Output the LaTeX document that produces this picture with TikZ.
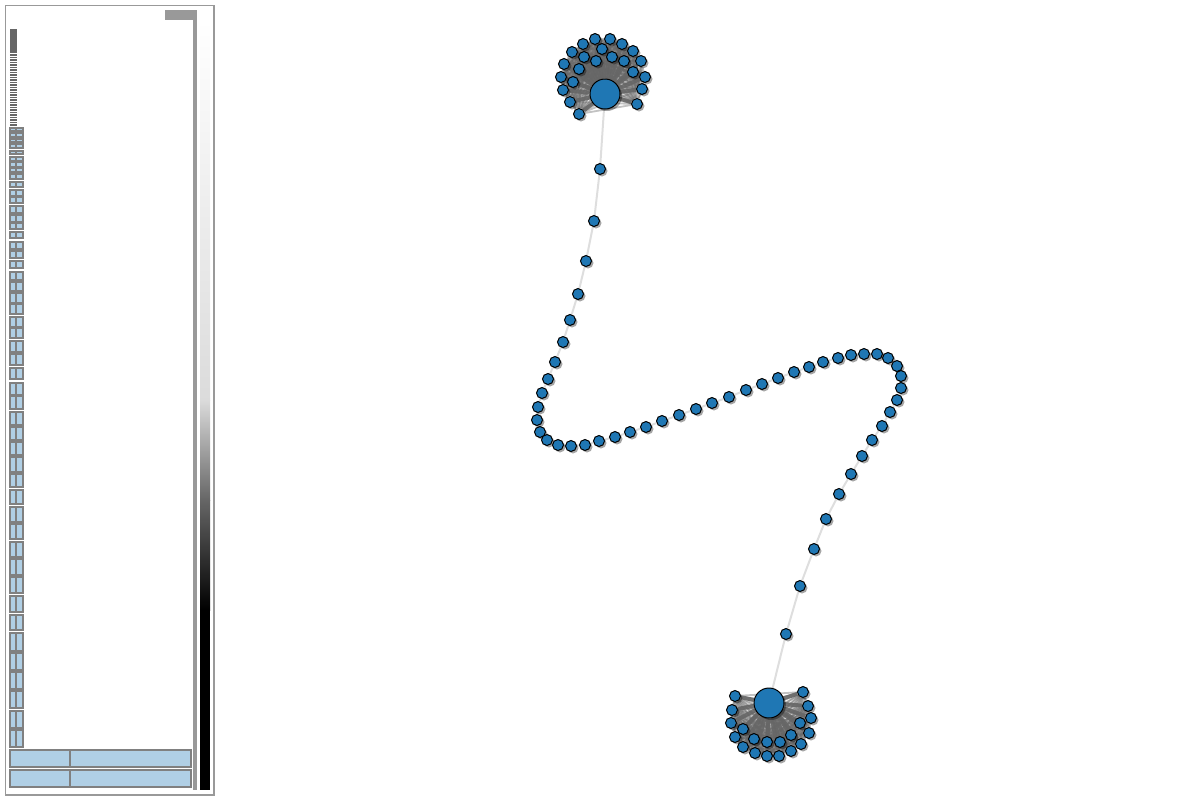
\documentclass[tikz,border=0pt]{standalone}
\usetikzlibrary{shadows}
\definecolor{nodeblue}{HTML}{1F77B4}
\definecolor{boxblue}{HTML}{B0CFE5}
\definecolor{boxgrey}{HTML}{808080}
\definecolor{panelgrey}{HTML}{999999}
\pgfdeclarelayer{bg}
\pgfsetlayers{bg,main}
\tikzset{
  gnode/.style={circle, fill=nodeblue, draw=black, line width=0.5pt, inner sep=0pt, minimum size=5.5pt,
    drop shadow={shadow xshift=1pt, shadow yshift=-1pt, fill=black, opacity=0.35}},
  hubnode/.style={gnode, minimum size=15pt},
  chainedge/.style={draw=black!13, line width=1pt},
  hubedge/.style={draw=black!60, line width=2pt, opacity=0.9},
  pairedge/.style={draw=black!60, line width=0.9pt, opacity=0.4},
  colbox/.style={fill=boxblue, draw=boxgrey, line width=0.7pt},
}
\begin{document}
\begin{tikzpicture}[x=0.5pt,y=-0.5pt]
\useasboundingbox (0,0) rectangle (1200,800);
% ---------- left panel ----------
\draw[panelgrey, line width=0.6pt] (5.5,5.5) rectangle (214,795);
\fill[panelgrey] (165,10) rectangle (197,20);
\fill[panelgrey] (193,20) rectangle (197,790);
\shade[top color=white, bottom color=black!14] (200,20) rectangle (210,400);
\shade[top color=black!14, bottom color=black!60] (200,400) rectangle (210,500);
\shade[top color=black!60, bottom color=black] (200,500) rectangle (210,610);
\fill[black] (200,610) rectangle (210,790);
% dark top part of column
\fill[black!60] (10,29) rectangle (17,53);
\foreach \yy in {54,56.5,...,126}{
  \fill[black!60] (10,\yy) rectangle (17,\yy+1.6);
}
\foreach \a/\b in {128/131,133/137,139/142,144/148,151/154,157/161,162/167,168/172,174/179,182/187,
  190/196,197/203,206/213,215/222,223/229,232/238,242/249,251/258,261/268,272/280,282/291,293/303,
  304/314,317/327,328/338,341/352,354/365,368/379,383/395,396/409,412/425,427/440,442/455,457/472,
  474/487,490/504,507/522,524/539,542/557,559/575,577/593,596/612,615/630,633/651,653/670,672/689,
  691/708,711/728,730/747}{
  \draw[colbox] (10,\a) rectangle (23,\b);
  \draw[boxgrey, line width=0.7pt] (16,\a) -- (16,\b);
}
\draw[colbox] (10,750) rectangle (191,767);
\draw[boxgrey, line width=0.7pt] (70,750) -- (70,767);
\draw[colbox] (10,770) rectangle (191,787);
\draw[boxgrey, line width=0.7pt] (70,770) -- (70,787);
% ---------- graph nodes ----------
\node[hubnode] (ht) at (605,94) {};
\node[hubnode] (hb) at (769,703) {};
\foreach \x/\y [count=\n] in {595/39,610/39,583/44,622/44,572/52,633/51,564/64,641/61,561/77,645/77,
  563/90,642/89,570/102,637/104,579/114,602/49,584/57,596/61,612/57,624/61,579/69,633/72,573/82}{
  \node[gnode] (t\n) at (\x,\y) {};
}
\foreach \x/\y [count=\n] in {735/696,803/692,732/710,808/706,731/723,811/718,743/729,800/723,735/737,
  809/733,754/739,767/742,780/742,791/735,743/747,801/744,755/753,767/756,779/756,791/751}{
  \node[gnode] (b\n) at (\x,\y) {};
}
\foreach \x/\y [count=\n] in {600/169,594/221,586/261,578/294,570/320,563/342,555/362,548/379,542/393,
  538/407,537/420,540/432,547/440,558/445,571/446,585/445,599/441,615/437,630/432,646/427,662/421,
  679/415,696/409,712/403,729/397,746/390,762/384,778/378,794/372,809/367,823/362,838/358,851/355,
  864/354,877/354,888/358,897/366,901/376,901/388,897/400,890/412,882/426,872/440,862/456,851/474,
  839/494,826/519,814/549,800/586,786/634}{
  \node[gnode] (p\n) at (\x,\y) {};
}
% ---------- edges ----------
\begin{pgfonlayer}{bg}
  \draw[chainedge] (ht) -- (p1);
  \foreach \n in {1,...,49}{
    \pgfmathtruncatemacro{\m}{\n+1}
    \draw[chainedge] (p\n) -- (p\m);
  }
  \draw[chainedge] (p50) -- (hb);
  \foreach \i in {1,...,22}{
    \pgfmathtruncatemacro{\k}{\i+1}
    \foreach \j in {\k,...,23}{
      \draw[pairedge] (t\i) -- (t\j);
    }
  }
  \foreach \i in {1,...,23}{ \draw[hubedge] (ht) -- (t\i); }
  \foreach \i in {1,...,19}{
    \pgfmathtruncatemacro{\k}{\i+1}
    \foreach \j in {\k,...,20}{
      \draw[pairedge] (b\i) -- (b\j);
    }
  }
  \foreach \i in {1,...,20}{ \draw[hubedge] (hb) -- (b\i); }
\end{pgfonlayer}
\end{tikzpicture}
\end{document}
